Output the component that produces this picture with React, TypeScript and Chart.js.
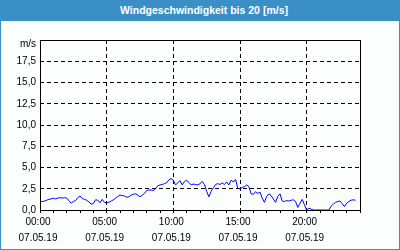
import React, { useEffect, useRef } from "react";
import { Chart, registerables } from "chart.js";

Chart.register(...registerables);

const chartTitle = "Windgeschwindigkeit bis 20 [m/s]";
const dateLabel = "07.05.19";
const unitLabel = "m/s";
const majorHours = [0, 5, 10, 15, 20];
const sampleMinutes = 10;
const yTickValues = [0, 2.5, 5, 7.5, 10, 12.5, 15, 17.5, 20];

// wind speed in m/s, one value per 10 minutes from 00:00
const windSpeed = [
  1.0, 1.0, 1.05, 1.15, 1.25, 1.3, 1.4, 1.3, 1.4, 1.45, 1.4, 1.45,
  1.4, 1.1, 0.8, 1.0, 1.1, 1.45, 1.65, 1.35, 1.25, 1.15, 0.95, 0.7,
  0.75, 1.2, 1.15, 0.85, 1.25, 0.9, 0.85, 0.9, 1.05, 1.2, 1.4, 1.6,
  1.75, 1.7, 1.65, 1.5, 1.55, 1.75, 1.85, 1.9, 1.75, 1.55, 1.75, 1.95,
  2.3, 2.35, 2.35, 2.3, 2.5, 2.85, 2.95, 3.0, 3.1, 3.2, 3.55, 3.7,
  3.5, 2.95, 3.2, 3.45, 2.95, 3.35, 3.5, 3.25, 2.95, 3.05, 3.0, 2.95,
  3.1, 3.35, 3.0, 2.2, 1.55, 2.2, 2.6, 3.0, 3.1, 3.0, 3.2, 3.0,
  3.3, 2.95, 3.5, 3.3, 3.6, 2.55, 2.5, 2.65, 2.75, 2.95, 2.75, 1.9,
  1.85, 2.15, 1.95, 2.1, 1.4, 0.9, 1.6, 1.9, 1.7, 1.3, 0.9, 1.6,
  1.9, 1.05, 1.0, 1.1, 1.05, 1.15, 1.2, 1.0, 0.3, 0.8, 1.25, 0.6,
  0.0, 0.2, 0.1, 0.0, 0.0, 0.0, 0.0, 0.0, 0.0, 0.0, 0.0, 0.45,
  0.7, 0.9, 1.0, 1.05, 0.75, 0.4, 0.8, 1.0, 1.15, 1.2, 1.15,
];

const BLUE = "#3b8fc7";
const FONT = "'Liberation Sans', Arial, sans-serif";

export default function App() {
  const ref = useRef<HTMLCanvasElement>(null);

  useEffect(() => {
    if (!ref.current) return;
    const points = windSpeed.map((v, i) => ({ x: (i * sampleMinutes) / 60, y: v }));

    const boxPlugin = {
      id: "plotBox",
      afterDraw(chart: any) {
        const { ctx, chartArea } = chart;
        const l = Math.round(chartArea.left) + 0.5;
        const t = Math.round(chartArea.top) + 0.5;
        const r = Math.round(chartArea.right) + 0.5;
        const b = Math.round(chartArea.bottom) + 0.5;
        ctx.save();
        ctx.strokeStyle = "#000";
        ctx.lineWidth = 1;
        ctx.setLineDash([]);
        ctx.strokeRect(l, t, r - l, b - t);
        ctx.restore();
      },
    };

    const chart = new Chart(ref.current, {
      type: "line",
      data: {
        datasets: [
          {
            data: points,
            borderColor: "#0000ff",
            borderWidth: 1,
            pointRadius: 0,
            tension: 0,
            fill: false,
          },
        ],
      },
      options: {
        animation: false,
        responsive: false,
        events: [],
        layout: { padding: { left: 0, top: 40, right: 40, bottom: 0 } },
        plugins: {
          legend: { display: false },
          title: { display: false },
          tooltip: { enabled: false },
        },
        scales: {
          x: {
            type: "linear",
            min: 0,
            max: 24,
            z: 1,
            afterFit: (s: any) => {
              s.height = 40;
            },
            border: { display: false, dash: [4, 3] },
            grid: {
              color: (c: any) => {
                const v = c.tick ? c.tick.value : -1;
                return v > 0 && v < 24 && majorHours.includes(v) ? "#000" : "rgba(0,0,0,0)";
              },
              tickColor: "#000",
              tickLength: 3,
              lineWidth: 1,
            },
            ticks: {
              stepSize: 1,
              autoSkip: false,
              maxRotation: 0,
              minRotation: 0,
              padding: 1,
              labelOffset: -2,
              color: "#000",
              font: { family: FONT, size: 10, lineHeight: "16px" } as any,
              callback: (v: any) => {
                const h = Number(v);
                if (!majorHours.includes(h)) return "";
                return [String(h).padStart(2, "0") + ":00", dateLabel];
              },
            },
          },
          y: {
            min: 0,
            max: 20,
            afterFit: (s: any) => {
              s.width = 40;
            },
            afterBuildTicks: (s: any) => {
              s.ticks = yTickValues.map((v) => ({ value: v }));
            },
            border: { display: false, dash: [4, 3] },
            grid: {
              drawTicks: false,
              color: (c: any) => {
                const v = c.tick ? c.tick.value : -1;
                return v > 0 && v < 20 ? "#000" : "rgba(0,0,0,0)";
              },
              lineWidth: 1,
            },
            ticks: {
              padding: 4,
              color: "#000",
              font: { family: FONT, size: 10, lineHeight: "8px" } as any,
              callback: (v: any) => {
                const n = Number(v);
                if (n === 20) return ["", unitLabel];
                return n.toFixed(1).replace(".", ",");
              },
            },
          },
        },
      },
      plugins: [boxPlugin],
    });
    return () => chart.destroy();
  }, []);

  return (
    <div
      style={{
        position: "fixed",
        left: 0,
        top: 0,
        width: 400,
        height: 250,
        boxSizing: "border-box",
        border: `1px solid ${BLUE}`,
        background: "#fcfefe",
      }}
    >
      <div
        style={{
          height: 20,
          background: BLUE,
          color: "#ffffff",
          fontFamily: FONT,
          fontWeight: "bold",
          fontSize: "10.5px",
          lineHeight: "18px",
          textAlign: "center",
          paddingLeft: 8,
          boxSizing: "border-box",
        }}
      >
        {chartTitle}
      </div>
      <canvas
        ref={ref}
        width={400}
        height={250}
        style={{ position: "absolute", left: -1, top: -1, width: 400, height: 250 }}
      />
    </div>
  );
}
